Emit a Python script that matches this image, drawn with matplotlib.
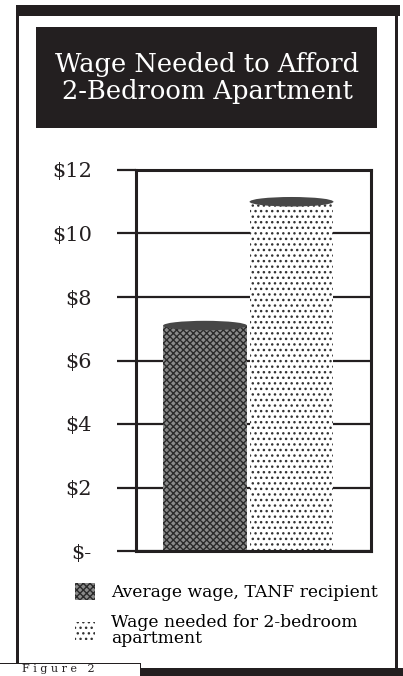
import matplotlib
matplotlib.use("Agg")
import matplotlib.pyplot as plt
from matplotlib.patches import Rectangle, Ellipse, Patch

# data
categories = ["Average wage, TANF recipient", "Wage needed for 2-bedroom\napartment"]
wages = [7.1, 11.0]
ticks = [0, 2, 4, 6, 8, 10, 12]
tick_labels = ["$-", "$2", "$4", "$6", "$8", "$10", "$12"]

faces = ["#8a8a8a", "#ffffff"]
hatch_colors = ["#2a2a2a", "#333333"]
hatches = ["xxxxx", "..."]
DARK = "#231f20"

plt.rcParams["font.family"] = ["DejaVu Serif"]
plt.rcParams["hatch.linewidth"] = 1.0

W, H = 403, 676
fig = plt.figure(figsize=(W / 100, H / 100), dpi=100)


def box(x, y, w, h, **kw):
    # pixel box, measured from the top-left corner of the picture
    fig.add_artist(Rectangle((x / W, 1 - (y + h) / H), w / W, h / H,
                             transform=fig.transFigure, **kw))


# outer frame
box(16, 5, 384, 11, color=DARK, lw=0)
box(16, 5, 3, 658, color=DARK, lw=0)
box(395, 5, 3, 668, color=DARK, lw=0)
box(140, 668, 263, 8, color=DARK, lw=0)
box(0, 662.5, 141, 1.5, color=DARK, lw=0)
box(139.5, 662.5, 1.5, 14, color=DARK, lw=0)
fig.text(22 / W, 1 - 669.5 / H, "F i g u r e   2", fontsize=8, va="center",
         ha="left", color=DARK)

# title block
box(36, 27, 341, 101, color=DARK, lw=0)
fig.text(207 / W, 1 - 78 / H, "Wage Needed to Afford\n2-Bedroom Apartment",
         color="white", fontsize=18.5, ha="center", va="center",
         linespacing=1.1)

# chart
ax = fig.add_axes([136 / W, 1 - 551 / H, 235 / W, 381 / H])
x = range(len(wages))
width = 0.97
bars = ax.bar(x, wages, width=width, color=faces, linewidth=0, zorder=2)
for b, hc, ht in zip(bars, hatch_colors, hatches):
    b.set_hatch(ht)
    b.set_edgecolor(hc)
for xi, v in zip(x, wages):
    ax.add_patch(Ellipse((xi, v), width, 0.3, color="#474747", lw=0, zorder=3))

ax.set_xlim(-0.798, 1.919)
ax.set_ylim(0, 12)
ax.set_yticks(ticks)
ax.set_yticklabels(tick_labels, fontsize=15, color=DARK)
ax.set_xticks([])
ax.tick_params(axis="y", length=13.7, width=1.6, pad=18, color=DARK)
ax.grid(axis="y", color=DARK, lw=1.6, zorder=1)
for s in ax.spines.values():
    s.set_linewidth(2.2)
    s.set_color(DARK)

handles = [Patch(facecolor=f, edgecolor=hc, hatch=ht, lw=0)
           for f, hc, ht in zip(faces, hatch_colors, hatches)]
fig.legend(handles, categories, loc="upper left",
           bbox_to_anchor=(68 / W, 1 - 576 / H), frameon=False,
           fontsize=12.3, handlelength=1.2, handleheight=1.2,
           handletextpad=0.9, labelspacing=0.75, borderaxespad=0)
for t in fig.legends[0].get_texts():
    t.set_linespacing(0.9)

fig.savefig("out.png", dpi=100)
